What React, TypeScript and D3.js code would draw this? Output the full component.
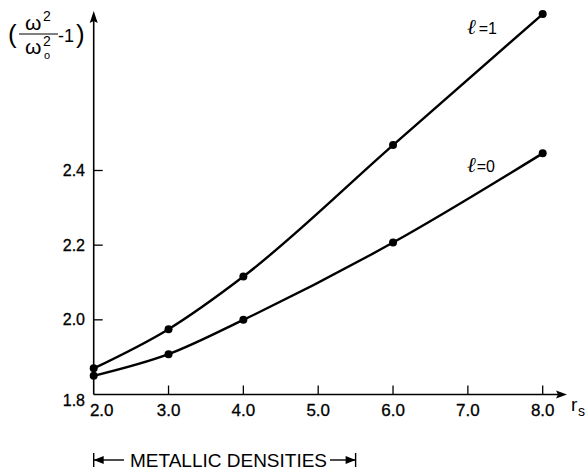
import React from "react";
import * as d3 from "d3";

const width = 585;
const height = 475;

// r_s values where the points were computed
const rsValues = [2, 3, 4, 6, 8];
// (w^2 / w0^2 - 1) for each l
const seriesL1 = [1.87, 1.975, 2.116, 2.468, 2.819];
const seriesL0 = [1.85, 1.908, 2.0, 2.207, 2.446];

const xTicks = [2, 3, 4, 5, 6, 7, 8];
const xTickLabels = ["2.0", "3.0", "4.0", "5.0", "6.0", "7.0", "8.0"];
const yTicks = [1.8, 2.0, 2.2, 2.4];
const yTickLabels = ["1.8", "2.0", "2.2", "2.4"];

const font = "'Liberation Sans', sans-serif";

const App = () => {
  const x = d3.scaleLinear().domain([2, 8]).range([93.7, 542.7]);
  const y = d3.scaleLinear().domain([1.8, 2.4]).range([394.5, 170.5]);

  const x0 = x(2);
  const y0 = y(1.8);

  const line = d3
    .line<number>()
    .x((_, i) => x(rsValues[i]))
    .y((d) => y(d))
    .curve(d3.curveMonotoneX);

  const series = [
    { name: "1", values: seriesL1 },
    { name: "0", values: seriesL0 },
  ];

  return (
    <svg
      width={width}
      height={height}
      style={{ position: "absolute", left: 0, top: 0, background: "white" }}
      fontFamily={font}
    >
      <rect width={width} height={height} fill="white" />

      {/* axes with arrow heads */}
      <line x1={x0} y1={y0} x2={560} y2={y0} stroke="black" strokeWidth={1.6} />
      <path d={`M567,${y0} L556,${y0 - 4} L558,${y0} L556,${y0 + 4} Z`} fill="black" />
      <line x1={x0} y1={y0} x2={x0} y2={20} stroke="black" strokeWidth={1.6} />
      <path d={`M${x0},11 L${x0 - 4},23 L${x0},21 L${x0 + 4},23 Z`} fill="black" />

      {/* x ticks */}
      {xTicks.map((t, i) => (
        <g key={t}>
          {t > 2 && <line x1={x(t)} x2={x(t)} y1={y0} y2={y0 - 9} stroke="black" strokeWidth={1.3} />}
          <text
            x={x(t) + (i === 0 ? 8 : 0)}
            y={416}
            fontSize={17}
            textAnchor="middle"
            stroke="black"
            strokeWidth={0.3}
          >
            {xTickLabels[i]}
          </text>
        </g>
      ))}

      {/* y ticks */}
      {yTicks.map((t, i) => (
        <g key={t}>
          {t > 1.8 && <line x1={x0} x2={x0 + 9} y1={y(t)} y2={y(t)} stroke="black" strokeWidth={1.3} />}
          <text
            x={85}
            y={y(t) + (i === 0 ? 6 : 0)}
            fontSize={16}
            textAnchor="end"
            dominantBaseline="central"
            stroke="black"
            strokeWidth={0.3}
          >
            {yTickLabels[i]}
          </text>
        </g>
      ))}

      {/* curves */}
      {series.map((s) => (
        <g key={s.name}>
          <path d={line(s.values) ?? ""} fill="none" stroke="black" strokeWidth={2.4} />
          {s.values.map((v, i) => (
            <circle key={i} cx={x(rsValues[i])} cy={y(v)} r={4} fill="black" />
          ))}
        </g>
      ))}

      {/* curve labels */}
      <text x={467} y={34} fontSize={16}>
        <tspan fontStyle="italic" fontFamily="'DejaVu Serif', serif" fontSize={21}>ℓ</tspan>
        <tspan dx={3}>=1</tspan>
      </text>
      <text x={467} y={172} fontSize={16}>
        <tspan fontStyle="italic" fontFamily="'DejaVu Serif', serif" fontSize={21}>ℓ</tspan>
        <tspan dx={1}>=0</tspan>
      </text>

      {/* y axis title: (w^2 / w0^2 - 1) */}
      <g>
        <text x={8} y={43} fontSize={26}>(</text>
        <text x={25} y={30} fontSize={21}>ω</text>
        <text x={43} y={21} fontSize={14}>2</text>
        <line x1={19} x2={58} y1={34} y2={34} stroke="black" strokeWidth={1} />
        <text x={25} y={54} fontSize={21}>ω</text>
        <text x={43} y={46} fontSize={14}>2</text>
        <text x={44} y={59} fontSize={11}>o</text>
        <text x={58} y={42} fontSize={18}>-1</text>
        <text x={76} y={43} fontSize={26}>)</text>
      </g>

      {/* x axis title */}
      <text x={571} y={411} fontSize={19}>r</text>
      <text x={578} y={416} fontSize={14}>s</text>

      {/* metallic densities range */}
      <g stroke="black" strokeWidth={1.4}>
        <line x1={x(2)} x2={x(2)} y1={453} y2={467} />
        <line x1={x(2)} x2={124} y1={460} y2={460} />
        <line x1={330} x2={x(5.5)} y1={460} y2={460} />
        <line x1={x(5.5)} x2={x(5.5)} y1={453} y2={467} />
      </g>
      <path d={`M${x(2)},460 L${x(2) + 10},456 L${x(2) + 10},464 Z`} fill="black" />
      <path d={`M${x(5.5)},460 L${x(5.5) - 10},456 L${x(5.5) - 10},464 Z`} fill="black" />
      <text x={228.5} y={467} fontSize={19} textAnchor="middle">METALLIC DENSITIES</text>
    </svg>
  );
};

export default App;
